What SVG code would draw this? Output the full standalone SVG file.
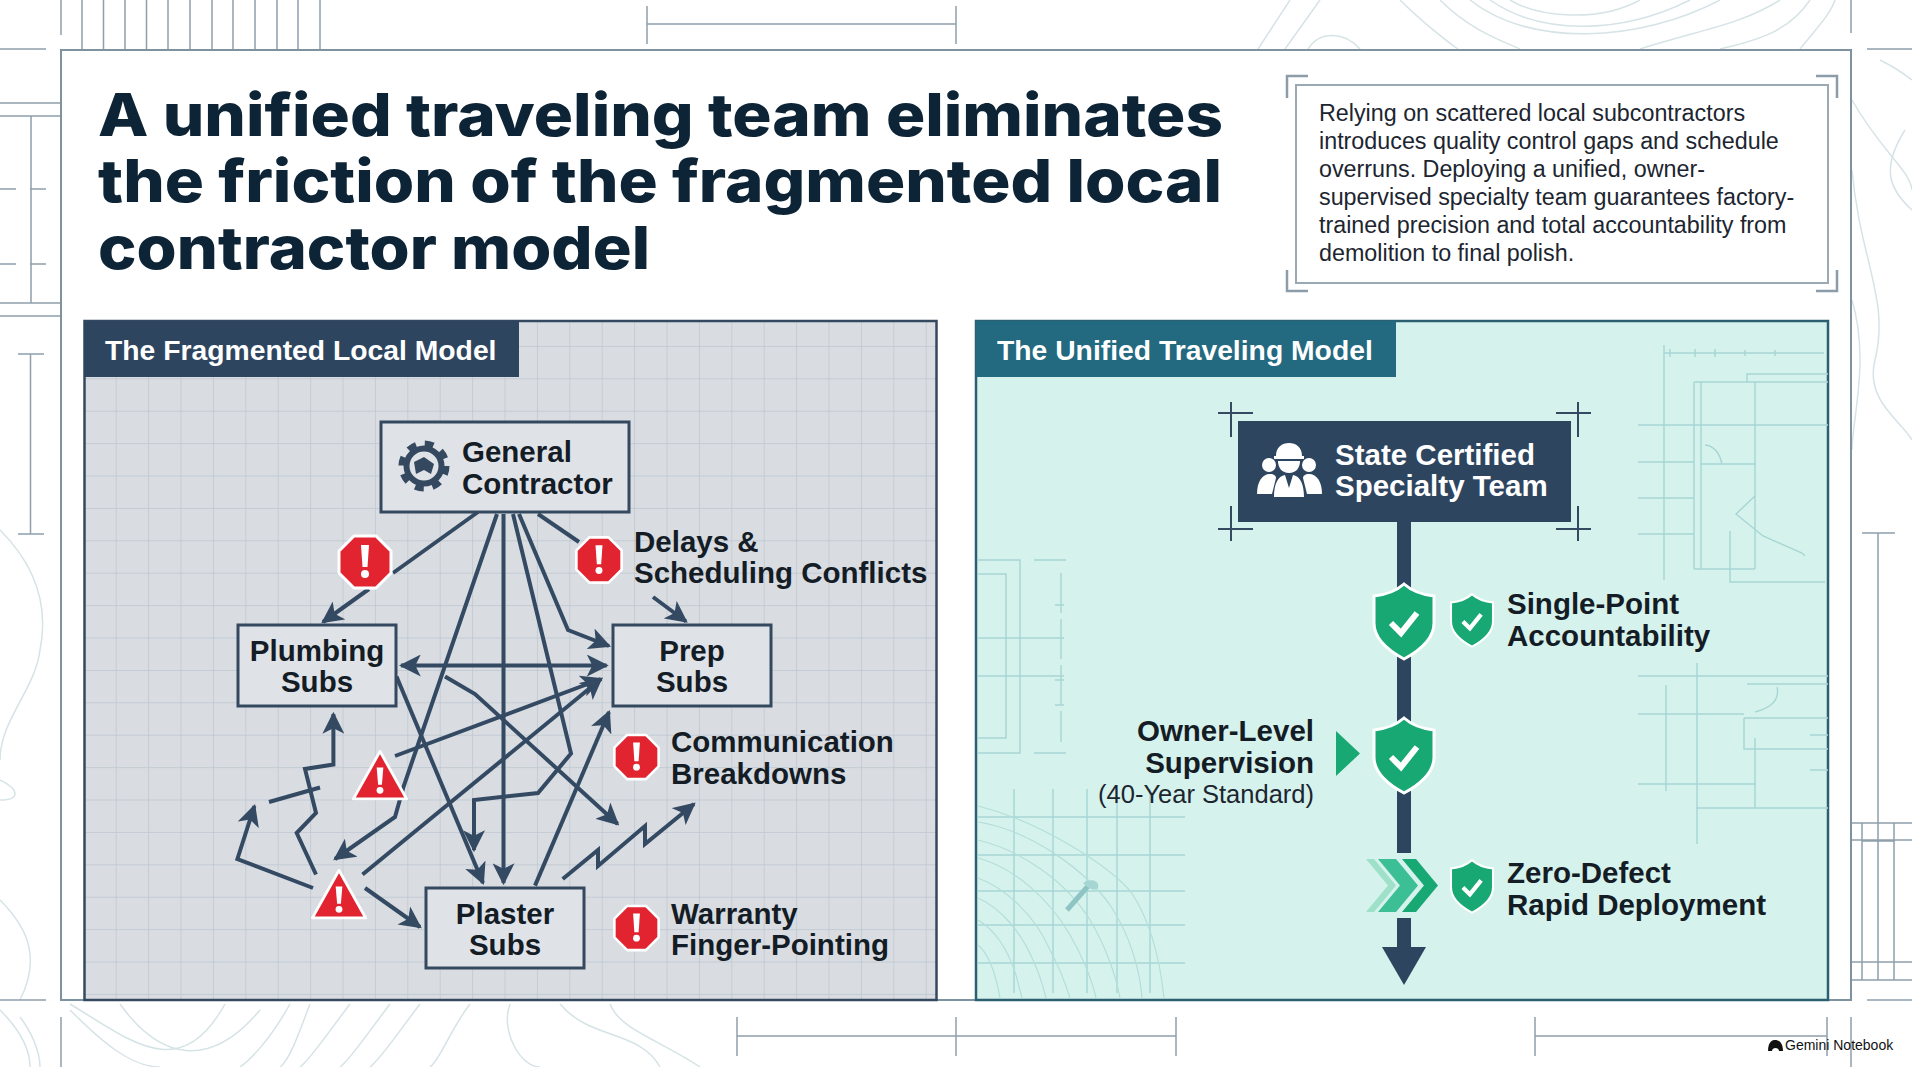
<svg xmlns="http://www.w3.org/2000/svg" width="1912" height="1067" viewBox="0 0 1912 1067">
<style>
.t{font-family:"Inter","Liberation Sans",sans-serif;font-weight:800;font-size:59px;fill:#0d2436}
.b{font-family:"Liberation Sans",Arial,sans-serif;font-size:23.3px;fill:#1c2530}
.h{font-family:"Liberation Sans",Arial,sans-serif;font-weight:700;font-size:28.3px;fill:#fff}
.n{font-family:"Liberation Sans",Arial,sans-serif;font-weight:700;font-size:29.5px;fill:#141c26}
.nw{font-family:"Liberation Sans",Arial,sans-serif;font-weight:700;font-size:29.5px;fill:#fff}
.box{fill:#dfe3e8;stroke:#34495f;stroke-width:3}
.bp{fill:none;stroke:#8fa0ac;stroke-width:1.5}
.bpd{fill:none;stroke:#8fa0ac;stroke-width:1.5;stroke-dasharray:16 14}
.c{fill:none;stroke:#d6e3e6;stroke-width:1.5}
.tb{fill:none;stroke:#a6d6d4;stroke-width:1.4}
.tc{fill:none;stroke:#b4dedb;stroke-width:1.2}
.l{fill:none;stroke:#344a63;stroke-width:4;stroke-linejoin:miter}
.cross{fill:none;stroke:#344a63;stroke-width:2}
</style>
<defs>
<pattern id="grid" x="84.3" y="314.5" width="32.4" height="32.4" patternUnits="userSpaceOnUse"><path d="M32.4 0V32.4M0 32.4H32.4" fill="none" stroke="#bcc5cf" stroke-width="1.4"/></pattern>
<marker id="a" viewBox="0 0 10 10" refX="9" refY="5" markerWidth="5.5" markerHeight="5.5" orient="auto-start-reverse"><path d="M0 0L10 5L0 10L2.5 5Z" fill="#344a63"/></marker>
<g id="oct"><path d="M-11-26H11L26-11V11L11 26H-11L-26 11V-11Z" fill="#e1242f" stroke="#fff" stroke-width="3" stroke-linejoin="round"/><path d="M-4-17H4L2.5 5H-2.500Z" fill="#fff"/><circle cy="12" r="4" fill="#fff"/></g>
<g id="tri"><path d="M0-28L28 22H-28Z" fill="#e1242f" stroke="#fff" stroke-width="3" stroke-linejoin="round"/><path d="M-3.500-11H3.500L2 7H-2Z" fill="#fff"/><circle cy="13" r="3.6" fill="#fff"/></g>
<g id="sh"><path d="M0-37C9-29 20-26 30-25V2C30 18 15 30 0 38C-15 30-30 18-30 2V-25C-20-26-9-29 0-37Z" fill="#18a874" stroke="#fff" stroke-width="3"/><path d="M-13 2L-3 12L13-8" fill="none" stroke="#fff" stroke-width="6"/></g>
</defs>
<rect width="1912" height="1067" fill="#fff"/>
<g id="background">
<path class="c" d="M1290 0L1258 49M1320 0L1285 49M1360 49C1345 32 1320 30 1308 49M1400 0C1420 20 1445 40 1458 49M1440 0C1470 30 1500 40 1520 49M1510 0C1540 18 1600 22 1640 0M1490 0C1540 35 1620 35 1690 0M1470 0C1530 48 1640 42 1720 0M1640 49C1700 30 1740 25 1780 0M1720 49C1760 40 1790 30 1810 0M1800 49C1815 30 1830 15 1835 0"/>
<path class="c" d="M1852 100C1880 150 1910 170 1912 190M1852 170C1860 260 1890 300 1875 360C1865 400 1900 420 1912 440M1852 300C1870 360 1852 420 1852 450M1880 60C1900 70 1905 75 1912 80M1905 130C1880 170 1890 190 1912 210"/>
<path class="c" d="M70 1010C100 1040 130 1067 160 1067M70 1004C130 1040 180 1085 225 1004M120 1004C160 1060 210 1070 260 1010M290 1004C270 1040 250 1060 240 1067M310 1004C300 1030 290 1060 280 1067M350 1004C330 1030 310 1060 300 1067M390 1004C370 1030 350 1060 340 1067M420 1004C400 1030 380 1060 370 1067M470 1004C450 1030 440 1060 430 1067M510 1004C500 1030 520 1067 540 1067M560 1004C590 1040 640 1030 660 1067M610 1004C620 1030 660 1040 700 1067"/>
<path class="c" d="M0 530C30 560 50 600 40 650C35 690 0 720 0 760M0 780C20 790 20 800 0 800M0 900C30 930 40 960 20 1000M0 1010C20 1030 30 1050 30 1067M20 1017C30 1030 40 1050 40 1067"/>
<path class="bp" d="M82 0V49M103.500 0V49M125 0V49M146.500 0V49M168 0V49M190 0V49M212 0V49M233 0V49M255 0V49M277 0V49M298 0V49M320 0V49M61 0V35M0 49H46M0 103H61M0 116H61M31 116V303M0 303H61M0 316H61"/>
<path class="bpd" d="M0 189H61M0 264H61"/>
<path class="bp" d="M30.500 354V534M18 354H44M18 534H44M647 6V44M956 6V44M647 24H956M1851 0V33M1867 49H1912M0 1000H46M1867 1000H1912M61 1017V1067M737 1017V1056M956 1017V1056M1176 1017V1056M1535 1017V1056M1827 1017V1056M1851 1017V1067M737 1036H1176M1535 1036H1827"/>
<path class="bp" d="M1878 533V841M1862 533H1895M1862 841H1895M1851 823H1912M1851 840H1912M1851 980H1912M1851 962H1912M1862 823V980M1878 823V980M1894 823V980"/>
</g>
<rect id="frame" x="61" y="50" width="1790" height="950" fill="#fff" stroke="#7f929f" stroke-width="2"/>
<g id="title">
<text class="t" x="98" y="136" textLength="1125" lengthAdjust="spacingAndGlyphs">A unified traveling team eliminates</text>
<text class="t" x="98" y="202" textLength="1124" lengthAdjust="spacingAndGlyphs">the friction of the fragmented local</text>
<text class="t" x="98" y="269" textLength="552" lengthAdjust="spacingAndGlyphs">contractor model</text>
</g>
<g id="summary">
<rect x="1296" y="85" width="532" height="198" fill="#fff" stroke="#9aa9b4" stroke-width="2"/>
<path fill="none" stroke="#8c9ca8" stroke-width="2.500" d="M1287 98V76H1308M1816 76H1837V98M1287 270V291H1308M1816 291H1837V270"/>
<text class="b" x="1319" y="121">Relying on scattered local subcontractors</text>
<text class="b" x="1319" y="149">introduces quality control gaps and schedule</text>
<text class="b" x="1319" y="177">overruns. Deploying a unified, owner-</text>
<text class="b" x="1319" y="205">supervised specialty team guarantees factory-</text>
<text class="b" x="1319" y="233">trained precision and total accountability from</text>
<text class="b" x="1319" y="261">demolition to final polish.</text>
</g>
<g id="panel-left">
<rect x="84.500" y="321" width="852" height="679" fill="#d9dde2"/>
<rect x="84.500" y="321" width="852" height="679" fill="url(#grid)" stroke="#34495f" stroke-width="2.500"/>
<rect x="84" y="321" width="435" height="56" fill="#2e4560"/>
<text class="h" x="105" y="360">The Fragmented Local Model</text>
</g>
<g id="panel-right">
<rect x="976" y="321" width="852" height="679" fill="#d6f2ec" stroke="#2d5f72" stroke-width="2.500"/>
<g id="right-blueprint">
<path class="tb" d="M1664 353H1824M1670 349V357M1695 349V357M1715 349V357M1745 350V356M1775 350V356M1694 382V569M1701 382V569M1755 382V569M1694 382H1828M1747 382V374H1828M1694 569H1755M1730 531V582H1825M1638 425H1828M1638 462H1694M1638 498H1694M1638 534H1694M1664 345V580M1701 464H1755M1705 445C1715 446 1720 455 1722 464M1755 496L1736 514L1763 536L1802 553L1805 556"/>
<path class="tb" d="M1638 676H1828M1697 663V844M1747 684H1828M1777 687C1780 700 1770 708 1755 712M1744 718H1828M1744 718V749H1828M1755 738V808M1697 808H1828M1638 714H1744M1638 784H1755M1666 685V791M1810 735H1828M1810 770H1828"/>
<path class="tb" d="M978 560H1020V753H978M978 574H1006V738H978M978 638H1034M1030 638H1064M978 676H1064M1034 560H1066M1034 753H1066"/>
<path class="tb" stroke-dasharray="40 6" d="M1061 573V742"/>
<path class="tb" d="M1055 605H1064M1055 680H1064M1055 705H1064"/>
<path class="tb" d="M977 817H1185M977 855H1185M977 891H1185M977 925H1185M977 963H1185M1014 789V993M1053 789V993M1087 789V993M1117 789V993M1150 789V993"/>
<path class="tc" d="M978 806C1042 822 1109 866 1131 892C1150 920 1160 960 1164 998M978 822C1030 830 1085 870 1110 905C1130 935 1140 970 1142 998M978 840C1020 850 1065 880 1090 920C1105 945 1116 975 1120 998M978 858C1015 868 1050 900 1070 935C1082 955 1092 980 1096 998M978 878C1005 888 1035 915 1050 950C1058 965 1066 985 1070 998M978 898C1000 908 1020 930 1033 960C1040 975 1044 990 1046 998M978 920C995 930 1008 950 1016 975L1022 998M978 945C990 955 996 975 1000 998"/>
<path d="M1067 910L1089 885" fill="none" stroke="#8dc4c4" stroke-width="5"/>
<path d="M1083 883C1090 878 1100 880 1098 888C1094 892 1088 888 1083 883Z" fill="#a6d6d4"/>
</g>
<rect x="976" y="321" width="420" height="56" fill="#23697f"/>
<text class="h" x="997" y="360">The Unified Traveling Model</text>
</g>
<g id="connectors">
<path class="l" d="M478 512L393 573M369 589L323 622" marker-end="url(#a)"/>
<path class="l" d="M497 514L403.600 786.500L395 817L335 859" marker-end="url(#a)"/>
<path class="l" d="M503.500 514V883" marker-end="url(#a)"/>
<path class="l" d="M513 514L571 753.500L538 793L474 800V850" marker-end="url(#a)"/>
<path class="l" d="M519 514L568 630L609 646" marker-end="url(#a)"/>
<path class="l" d="M538 514L579 542"/>
<path class="l" d="M653 597L686 621.500" marker-end="url(#a)"/>
<path class="l" d="M401 665.500H606.600" marker-start="url(#a)" marker-end="url(#a)"/>
<path class="l" d="M396.500 676.500L483 883" marker-end="url(#a)"/>
<path class="l" d="M445 676.500L475 694L617.600 824" marker-end="url(#a)"/>
<path class="l" d="M395 756L601 679" marker-end="url(#a)"/>
<path class="l" d="M362.500 874.500L601 679" marker-end="url(#a)"/>
<path class="l" d="M535 885.600L609 712" marker-end="url(#a)"/>
<path class="l" d="M562.700 879L598 850V866L645 826V844L694 804" marker-end="url(#a)"/>
<path class="l" d="M365 888L420 927" marker-end="url(#a)"/>
<path class="l" d="M316 874.500L296.700 833L316 813L305 769L333.400 764.500V714" marker-end="url(#a)"/>
<path class="l" d="M313 888L237.400 859L254.400 806" marker-end="url(#a)"/>
<path class="l" d="M269 802L320 787.500"/>
</g>
<g id="general-contractor">
<rect class="box" x="381" y="422" width="248" height="90"/>
<circle cx="424" cy="466" r="22" fill="none" stroke="#34495f" stroke-width="7" stroke-dasharray="8.600 8.700"/>
<circle cx="424" cy="466" r="17.500" fill="none" stroke="#34495f" stroke-width="6"/>
<path d="M414 462L424 457L434 464L431 474L424 470L416 474Z" fill="#34495f"/>
<text class="n" x="462" y="462">General</text>
<text class="n" x="462" y="494">Contractor</text>
</g>
<g id="plumbing-subs">
<rect class="box" x="238" y="625" width="158" height="81"/>
<text class="n" x="317" y="661" text-anchor="middle">Plumbing</text>
<text class="n" x="317" y="692" text-anchor="middle">Subs</text>
</g>
<g id="prep-subs">
<rect class="box" x="613" y="625" width="158" height="81"/>
<text class="n" x="692" y="661" text-anchor="middle">Prep</text>
<text class="n" x="692" y="692" text-anchor="middle">Subs</text>
</g>
<g id="plaster-subs">
<rect class="box" x="426" y="888" width="158" height="80"/>
<text class="n" x="505" y="924" text-anchor="middle">Plaster</text>
<text class="n" x="505" y="955" text-anchor="middle">Subs</text>
</g>
<g id="risk-icons">
<use href="#oct" x="365" y="562"/>
<use href="#oct" transform="translate(599 560) scale(.87)"/>
<use href="#oct" transform="translate(636.500 757) scale(.85)"/>
<use href="#oct" transform="translate(636.500 928) scale(.85)"/>
<use href="#tri" transform="translate(380 778) scale(.95)"/>
<use href="#tri" transform="translate(339 897) scale(.95)"/>
</g>
<g id="risk-delays"><text class="n" x="634" y="552">Delays &amp;</text><text class="n" x="634" y="583">Scheduling Conflicts</text></g>
<g id="risk-communication"><text class="n" x="671" y="752">Communication</text><text class="n" x="671" y="784">Breakdowns</text></g>
<g id="risk-warranty"><text class="n" x="671" y="924">Warranty</text><text class="n" x="671" y="955">Finger-Pointing</text></g>
<g id="spine">
<path d="M1404 521V853M1404 918V950" fill="none" stroke="#2e4560" stroke-width="14"/>
<path d="M1382 947H1426L1404 985Z" fill="#2e4560"/>
</g>
<g id="specialty-team">
<rect x="1238" y="421" width="333" height="101" fill="#2e4560"/>
<path class="cross" d="M1218 413H1253M1231 402V437M1556 413H1591M1578 402V437M1218 529H1253M1231 506V541M1556 529H1591M1578 506V541"/>
<g fill="#fff">
<circle cx="1269" cy="465" r="7"/><circle cx="1309" cy="465" r="7"/>
<path d="M1257 494C1257 482 1262 474 1270 474C1274 474 1276 476 1276 478L1272 494Z"/>
<path d="M1322 494C1322 482 1317 474 1309 474C1305 474 1303 476 1303 478L1307 494Z"/>
<path d="M1276 456C1276 447 1282 443 1289 443C1296 443 1302 447 1302 456H1304V459H1274V456Z"/>
<path d="M1278 461H1300C1300 468 1296 473 1289 473C1282 473 1278 468 1278 461Z"/>
<path d="M1274 497C1274 484 1278 476 1285 475L1289 488L1293 475C1300 476 1304 484 1304 497Z"/>
</g>
<text class="nw" x="1335" y="465">State Certified</text>
<text class="nw" x="1335" y="496">Specialty Team</text>
</g>
<g id="single-point">
<use href="#sh" x="1404" y="621"/>
<use href="#sh" transform="translate(1472 620) scale(.7)"/>
<text class="n" x="1507" y="614">Single-Point</text>
<text class="n" x="1507" y="646">Accountability</text>
</g>
<g id="owner-level">
<path d="M1336 731V776L1360 753.500Z" fill="#18a874"/>
<use href="#sh" x="1404" y="755"/>
<text class="n" x="1314" y="741" text-anchor="end">Owner-Level</text>
<text class="n" x="1314" y="773" text-anchor="end">Supervision</text>
<text class="b" x="1314" y="803" text-anchor="end" style="font-size:25.5px">(40-Year Standard)</text>
</g>
<g id="zero-defect">
<path d="M1366 859H1374L1396 885.500L1374 912H1366L1388 885.500Z" fill="#9fe0c8"/>
<path d="M1378 859H1396L1418 885.500L1396 912H1378L1400 885.500Z" fill="#3cbf95"/>
<path d="M1402 859H1416L1438 885.500L1416 912H1402L1424 885.500Z" fill="#18a874"/>
<use href="#sh" transform="translate(1472 886) scale(.7)"/>
<text class="n" x="1507" y="883">Zero-Defect</text>
<text class="n" x="1507" y="915">Rapid Deployment</text>
</g>
<g id="watermark">
<path d="M1768 1051C1768 1041 1773 1040 1775 1040C1779 1040 1783 1043 1783 1051H1779C1779 1047 1772 1047 1772 1051Z" fill="#111"/>
<text x="1785" y="1050" font-family="'Liberation Sans',sans-serif" font-size="14" fill="#111">Gemini Notebook</text>
</g>
</svg>
